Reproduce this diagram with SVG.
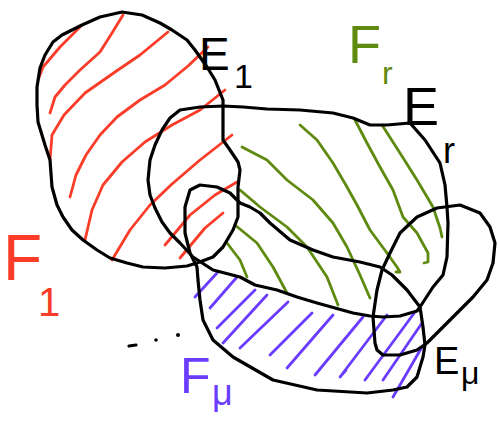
<svg xmlns="http://www.w3.org/2000/svg" width="498" height="424" viewBox="0 0 498 424">
<style>
.blk{fill:none;stroke:#000;stroke-width:3.2;stroke-linejoin:round;stroke-linecap:round}
.red{fill:none;stroke:#fa3c28;stroke-width:2.8;stroke-linecap:round;stroke-linejoin:round}
.grn{fill:none;stroke:#5e8a10;stroke-width:2.8;stroke-linecap:round;stroke-linejoin:round}
.pur{fill:none;stroke:#6a3cff;stroke-width:2.8;stroke-linecap:round;stroke-linejoin:round}
text{font-family:"Liberation Sans",Arial,sans-serif;font-weight:300}
.tb{fill:#000}.tr{fill:#fa3c28}.tg{fill:#5e8a10}.tp{fill:#6a3cff}
</style>
<rect width="498" height="424" fill="#fff"/>
<g id="hatch-F1">
<path class="red" d="M80,27 L60,47 L43,67 L38,80"/>
<path class="red" d="M123,15 L112,33 L100,52 L80,70 L65,85 L55,97 L50,113"/>
<path class="red" d="M168,32 L140,55 L115,72 L85,93 L64,115 L52,135 L50,160"/>
<path class="red" d="M208,47 L188,66 L165,85 L140,100 L117,117 L100,135 L86,155 L76,175 L70,197"/>
<path class="red" d="M225,90 L200,110 L172,125 L145,142 L122,162 L103,185 L92,210 L85,240"/>
<path class="red" d="M232,135 L200,160 L172,184 L150,205 L130,230 L112,260"/>
<path class="red" d="M237,182 L215,195 L190,215 L165,245"/>
<path class="red" d="M223,213 L205,228 L180,258"/>
</g>
<g id="hatch-Fr">
<path class="grn" d="M382,125 L400,153 L417,180 L433,207 L440,228 L442,237"/>
<path class="grn" d="M355,120 L367,143 L380,167 L393,190 L403,217 L417,233 L428,253 L428,262 L424,263"/>
<path class="grn" d="M300,125 L317,140 L333,163 L347,187 L357,205 L370,230 L387,253 L397,267 L400,272 L396,272"/>
<path class="grn" d="M242,147 L267,160 L287,180 L313,200 L333,223 L347,247 L360,275 L370,298"/>
<path class="grn" d="M240,190 L260,207 L287,227 L307,247 L327,277 L338,305"/>
<path class="grn" d="M235,225 L257,243 L273,267 L287,293"/>
<path class="grn" d="M227,243 L240,260 L247,277"/>
</g>
<g id="hatch-Fmu">
<path class="pur" d="M217,273 L195,297"/>
<path class="pur" d="M237,277 L210,308"/>
<path class="pur" d="M255,290 L217,328"/>
<path class="pur" d="M267,295 L223,343"/>
<path class="pur" d="M288,302 L240,348"/>
<path class="pur" d="M312,313 L270,355"/>
<path class="pur" d="M333,315 L287,368"/>
<path class="pur" d="M363,317 L315,375"/>
<path class="pur" d="M387,315 L340,377 L346,370"/>
<path class="pur" d="M415,312 L365,380"/>
<path class="pur" d="M422,323 L383,380"/>
<path class="pur" d="M422,347 L393,397"/>
</g>
<g id="E1">
<path class="blk" d="M122,12 L100,17 L82,25 L62,35 L53,42 L45,55 L40,68 L37,87 L37,105 L38,122 L45,145 L50,160 L52,187 L57,205 L63,217 L72,230 L83,240 L97,250 L110,258 L127,263 L143,267 L165,268 L187,266 L197,263 L213,257 L223,247 L233,230 L238,217 L238,200 L238,187 L240,170 L238,162 L230,150 L223,140 L223,100 L215,80 L207,67 L195,50 L187,40 L172,30 L160,23 L142,15 Z"/>
</g>
<g id="Er">
<path class="blk" d="M180,110 L200,107 L223,106 L243,107 L267,109 L300,110 L333,113 L353,118 L370,125 L387,125 L410,123 L425,140 L440,163 L445,185 L447,207 L448,223 L447,257 L443,275 L433,287 L420,307 L417,311 L400,316 L383,317 L370,316 L353,313 L335,308 L317,303 L297,297 L277,290 L255,285 L240,277 L213,270 L193,257 L180,243 L170,233 L162,222 L155,208 L150,195 L148,180 L150,160 L155,145 L162,130 L170,118 Z"/>
</g>
<g id="Emu-lower">
<path class="blk" d="M190,190 L200,185 L217,187 L230,193 L240,203 L250,207 L260,213 L270,223 L290,240 L313,250 L333,257 L360,262 L380,267 L392,275 L407,290 L420,307 L423,327 L425,345 L423,357 L417,377 L407,387 L393,390 L367,393 L317,390 L273,380 L233,357 L213,340 L203,320 L200,300 L198,280 L197,267 L190,253 L185,233 L185,207 Z"/>
</g>
<g id="Emu">
<path class="blk" d="M382,270 L390,253 L400,233 L417,217 L437,208 L460,205 L480,213 L490,227 L495,243 L493,263 L487,280 L473,297 L457,313 L440,330 L427,343 L417,350 L400,355 L383,355 L377,350 L375,343 L373,317 L377,290 Z"/>
</g>
<g id="dots">
<path class="blk" d="M129,346 L136,345"/>
<circle cx="156" cy="340" r="1.8" fill="#000"/>
<circle cx="178" cy="335" r="2" fill="#000"/>
</g>
<g id="labels">
<text class="tb" x="199" y="70" font-size="46">E</text>
<text class="tb" x="234" y="88" font-size="34">1</text>
<text class="tg" x="348" y="63" font-size="54">F</text>
<text class="tg" x="382" y="84" font-size="32">r</text>
<text class="tb" x="403" y="125" font-size="54">E</text>
<text class="tb" x="443" y="163" font-size="36">r</text>
<text class="tr" x="3" y="280" font-size="64">F</text>
<text class="tr" x="38" y="316" font-size="40">1</text>
<text class="tp" x="180" y="393" font-size="50">F</text>
<text class="tp" x="212" y="405" font-size="36">μ</text>
<text class="tb" x="434" y="374" font-size="38">E</text>
<text class="tb" x="461" y="384" font-size="32">μ</text>
</g>
</svg>
